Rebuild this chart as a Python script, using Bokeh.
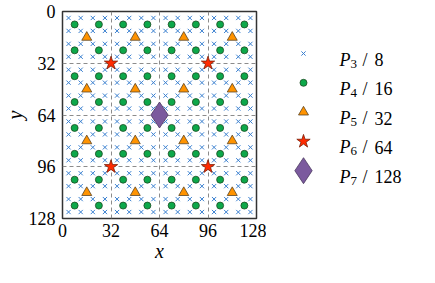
import numpy as np
from bokeh.plotting import figure
from bokeh.layouts import row
from bokeh.models import Range1d, FixedTicker, ColumnDataSource
from bokeh.core.properties import value
from bokeh.embed import file_html
from bokeh.resources import INLINE

# ---- data ----
levels = [3, 4, 5, 6, 7]          # P_n
spacings = [8, 16, 32, 64, 128]   # grid spacing of each level
domain = [0, 128]
ticks = [0, 32, 64, 96, 128]

# ---- styles ----
markers = ["x", "circle", "triangle", "star", "diamond"]
sizes = [6, 7, 10, 14, 26]
fills = ["#3a80d0", "#0da84a", "#ff9300", "#ff2a00", "#7b5a9e"]
edges = ["#3a80d0", "#1c4a22", "#5a4526", "#7a1e06", "#4a3960"]
lws = [1.0, 0.8, 0.8, 0.8, 0.8]
serif = "Liberation Serif"

ML, MT, MR, MB = 60, 11, 10, 48
FW, FH = 196, 207
W, H = ML + FW + MR, MT + FH + MB
p = figure(width=W, height=H,
           x_range=Range1d(domain[0], domain[1]),
           y_range=Range1d(domain[1], domain[0]),
           output_backend="svg", toolbar_location=None,
           min_border_left=ML, min_border_top=MT,
           min_border_right=MR, min_border_bottom=MB)
p.background_fill_color = "white"
p.border_fill_color = "white"
p.outline_line_color = "#333333"
p.outline_line_width = 1.5
p.outline_line_alpha = 1.0

for ax in (p.xaxis, p.yaxis):
    ax.ticker = FixedTicker(ticks=ticks)
    ax.major_tick_out = 0
    ax.major_tick_in = 0
    ax.minor_tick_out = 0
    ax.minor_tick_in = 0
    ax.axis_line_color = None
    ax.major_label_text_font = serif
    ax.major_label_text_font_size = "18px"
    ax.major_label_text_color = "black"
    ax.axis_label_text_font = serif
    ax.axis_label_text_font_style = "italic"
    ax.axis_label_text_font_size = "20px"
    ax.axis_label_text_color = "black"
    ax.axis_label_standoff = 0
p.xaxis.axis_label = "x"
p.yaxis.axis_label = "y"
p.xaxis.major_label_standoff = 5
p.yaxis.major_label_standoff = 7

for g in (p.xgrid, p.ygrid):
    g.grid_line_color = "#8c8c8c"
    g.grid_line_dash = "4 3"
    g.grid_line_width = 1

for i, s in enumerate(spacings):
    c = np.arange(s / 2, domain[1], s)
    xx, yy = np.meshgrid(c, c)
    src = ColumnDataSource(dict(x=xx.ravel(), y=yy.ravel()))
    p.scatter("x", "y", source=src, marker=markers[i], size=sizes[i],
              fill_color=fills[i], line_color=edges[i], line_width=lws[i])

# ---- legend panel: its frame is aligned with the main frame (same top/bottom borders);
# its ranges are chosen so that one data unit = one screen pixel of the panel ----
LW = 150
lg = figure(width=LW, height=H, x_range=Range1d(0, LW), y_range=Range1d(MT + FH, MT),
            output_backend="svg", toolbar_location=None,
            min_border_left=0, min_border_right=0, min_border_top=MT, min_border_bottom=MB,
            x_axis_location=None, y_axis_location=None)
lg.grid.visible = False
lg.outline_line_color = None
lg.background_fill_color = "white"
lg.border_fill_color = "white"

row0, dy = 53, 29.3
mx, px, sx, slx, nx = 37, 73, 84, 96, 108
for i, (lev, s) in enumerate(zip(levels, spacings)):
    yrow = row0 + i * dy
    lg.scatter([mx], [yrow], marker=markers[i], size=sizes[i],
               fill_color=fills[i], line_color=edges[i], line_width=lws[i])
    lg.text([px], [yrow], text=["P"], text_font=value(serif), text_font_style="italic",
            text_font_size="18px", text_baseline="alphabetic", y_offset=6, text_color="black")
    lg.text([sx], [yrow], text=[str(lev)], text_font=value(serif),
            text_font_size="13px", text_baseline="alphabetic", y_offset=10, text_color="black")
    lg.text([slx], [yrow], text=["/"], text_font=value(serif),
            text_font_size="18px", text_baseline="alphabetic", y_offset=6, text_color="black")
    lg.text([nx], [yrow], text=[str(s)], text_font=value(serif),
            text_font_size="18px", text_baseline="alphabetic", y_offset=6, text_color="black")

layout = row(p, lg)
open("out.html", "w").write(file_html(layout, INLINE))
